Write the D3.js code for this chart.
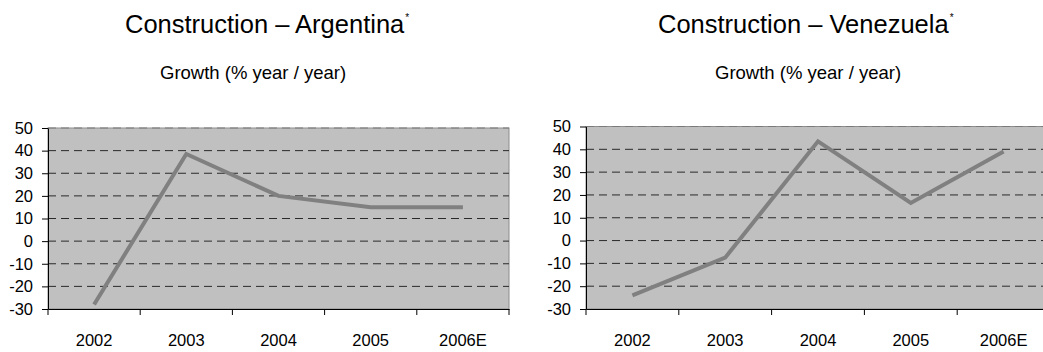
<!DOCTYPE html>
<html>
<head>
<meta charset="utf-8">
<script src="https://cdnjs.cloudflare.com/ajax/libs/d3/7.8.5/d3.min.js"></script>
<style>
  html, body { margin: 0; padding: 0; background: #fff; }
  svg { display: block; }
  text { font-family: "Liberation Sans", Arial, sans-serif; fill: #000; }
</style>
</head>
<body>
<svg id="chart" width="1043" height="352"></svg>
<script>
// ---- data ----
const categories = ["2002", "2003", "2004", "2005", "2006E"];
const argentinaValues = [-28, 38.5, 20, 15, 15];
const venezuelaValues = [-24, -7.5, 43.5, 16.5, 39];
const yTicks = [-30, -20, -10, 0, 10, 20, 30, 40, 50];
const titles = ["Construction – Argentina", "Construction – Venezuela"];
const subtitle = "Growth (% year / year)";

const svg = d3.select("#chart");

const panels = [
  { values: argentinaValues, title: titles[0], x0: 48, x1: 509, y0: 128, y1: 309, titleX: 125, subX: 160 },
  { values: venezuelaValues, title: titles[1], x0: 586, x1: 1050, y0: 126.5, y1: 309, titleX: 658, subX: 715 }
];

panels.forEach(p => {
  const g = svg.append("g");
  const x = d3.scaleBand().domain(categories).range([p.x0, p.x1]).padding(0);
  const y = d3.scaleLinear().domain([-30, 50]).range([p.y1, p.y0]);

  // title
  const t = g.append("text").attr("x", p.titleX).attr("y", 33).attr("font-size", 25.5);
  t.append("tspan").text(p.title);
  t.append("tspan").text("*").attr("font-size", 10).attr("dx", 1).attr("dy", -12);

  g.append("text").attr("x", p.subX).attr("y", 79).attr("font-size", 18.5).text(subtitle);

  // plot area
  g.append("rect")
    .attr("x", x.range()[0]).attr("y", y(50))
    .attr("width", x.range()[1] - x.range()[0]).attr("height", y(-30) - y(50))
    .attr("fill", "#c0c0c0").attr("stroke", "#8c8c8c").attr("stroke-width", 1);

  // gridlines
  g.selectAll(".grid").data(yTicks.filter(v => v > -30)).enter().append("line")
    .attr("x1", x.range()[0]).attr("x2", x.range()[1])
    .attr("y1", d => y(d)).attr("y2", d => y(d))
    .attr("stroke", d => d === 50 ? "#7a7a7a" : "#2a2a2a")
    .attr("stroke-width", 1)
    .attr("stroke-dasharray", "8,5");

  // y axis
  const yAxis = d3.axisLeft(y).tickValues(yTicks).tickFormat(d => String(d))
    .tickSize(6).tickPadding(9).tickSizeOuter(0);
  const ya = g.append("g").attr("transform", `translate(${x.range()[0]},0)`).call(yAxis);
  ya.selectAll("text").attr("font-size", 16.5).attr("font-family", "Liberation Sans, Arial, sans-serif").attr("fill", "#000");
  ya.select(".domain").attr("stroke", "#000");
  ya.selectAll(".tick line").attr("stroke", "#000");

  // x axis (labels at band centres)
  const xAxis = d3.axisBottom(x).tickSize(0).tickPadding(25).tickSizeOuter(0);
  const xa = g.append("g").attr("transform", `translate(0,${y(-30)})`).call(xAxis);
  xa.selectAll("text").attr("font-size", 16.5).attr("font-family", "Liberation Sans, Arial, sans-serif").attr("fill", "#000");
  xa.select(".domain").attr("stroke", "#000");

  // x tick marks at category boundaries
  const bounds = categories.map(c => x(c)).concat([x.range()[1]]);
  g.selectAll(".xtick").data(bounds).enter().append("line")
    .attr("x1", d => d).attr("x2", d => d)
    .attr("y1", y(-30)).attr("y2", y(-30) + 6)
    .attr("stroke", "#000");

  // series line
  const line = d3.line()
    .x((d, i) => x(categories[i]) + x.bandwidth() / 2)
    .y(d => y(d));
  g.append("path").datum(p.values)
    .attr("d", line)
    .attr("fill", "none")
    .attr("stroke", "#808080")
    .attr("stroke-width", 4);
});
</script>
</body>
</html>
